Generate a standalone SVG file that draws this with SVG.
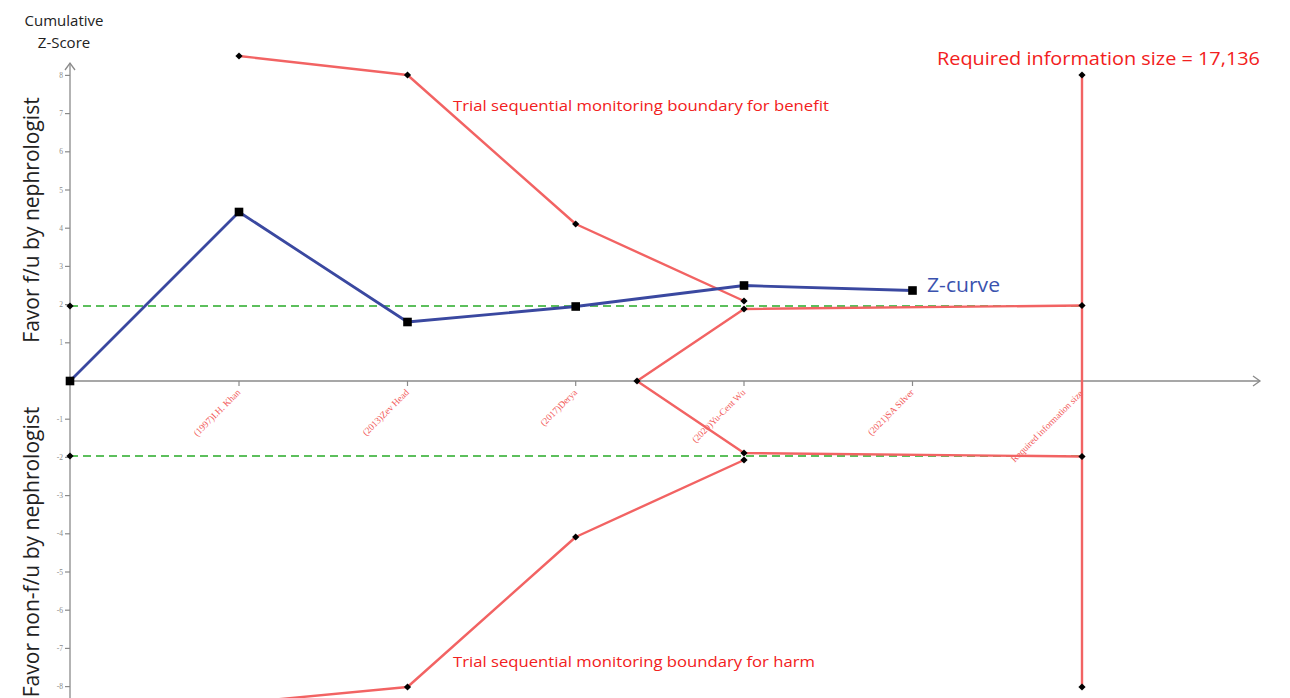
<svg xmlns="http://www.w3.org/2000/svg" xmlns:xlink="http://www.w3.org/1999/xlink" width="1290" height="698" viewBox="0 0 1290 698">
<style>
.axis{stroke:#8a8a8a;stroke-width:1.3;fill:none}
.tick{stroke:#8a8a8a;stroke-width:1.2}
.ylab{font-family:"Liberation Serif",serif;font-size:7.5px;fill:#8a8a8a;text-anchor:end}
.xlab{font-family:"Liberation Serif",serif;font-size:9.3px;fill:#f25a5a;text-anchor:end}
.red{stroke:#f26363;stroke-width:2.4;fill:none;stroke-linejoin:round}
.green{stroke:#5cbf5c;stroke-width:1.8;stroke-dasharray:8,5;fill:none}
.blue{stroke:#3a48a0;stroke-width:2.8;fill:none;stroke-linejoin:round}
.rtext{font-family:"Open Sans",sans-serif;fill:#f22020}
.big{font-family:"Open Sans",sans-serif;fill:#222}
</style>
<defs>
<path id="dm" d="M0,-3.6 L3.6,0 L0,3.6 L-3.6,0Z" fill="#000"/>
<rect id="sq" x="-4.3" y="-4.3" width="8.6" height="8.6" fill="#000"/>
</defs>
<rect width="1290" height="698" fill="#fff"/>

<g id="axes">
<line class="axis" x1="70" y1="63" x2="70" y2="698"/>
<polyline class="axis" points="65,70 70,63 75,70"/>
<line class="axis" x1="70" y1="381" x2="1260" y2="381"/>
<polyline class="axis" points="1253,376 1260,381 1253,386"/>
<g class="tick">
<line x1="65" y1="75.4" x2="70" y2="75.4"/><line x1="65" y1="113.6" x2="70" y2="113.6"/><line x1="65" y1="151.8" x2="70" y2="151.8"/><line x1="65" y1="190" x2="70" y2="190"/><line x1="65" y1="228.2" x2="70" y2="228.2"/><line x1="65" y1="266.4" x2="70" y2="266.4"/><line x1="65" y1="304.6" x2="70" y2="304.6"/><line x1="65" y1="342.8" x2="70" y2="342.8"/>
<line x1="65" y1="419.2" x2="70" y2="419.2"/><line x1="65" y1="457.4" x2="70" y2="457.4"/><line x1="65" y1="495.6" x2="70" y2="495.6"/><line x1="65" y1="533.8" x2="70" y2="533.8"/><line x1="65" y1="572" x2="70" y2="572"/><line x1="65" y1="610.2" x2="70" y2="610.2"/><line x1="65" y1="648.4" x2="70" y2="648.4"/><line x1="65" y1="686.6" x2="70" y2="686.6"/>
<line x1="239" y1="381" x2="239" y2="386"/><line x1="407.5" y1="381" x2="407.5" y2="386"/><line x1="575.7" y1="381" x2="575.7" y2="386"/><line x1="744" y1="381" x2="744" y2="386"/><line x1="912.5" y1="381" x2="912.5" y2="386"/>
</g>
<g class="ylab">
<text x="63" y="78">8</text><text x="63" y="116">7</text><text x="63" y="154">6</text><text x="63" y="193">5</text><text x="63" y="231">4</text><text x="63" y="269">3</text><text x="63" y="307">2</text><text x="63" y="345">1</text>
<text x="63" y="422">-1</text><text x="63" y="460">-2</text><text x="63" y="498">-3</text><text x="63" y="536">-4</text><text x="63" y="575">-5</text><text x="63" y="613">-6</text><text x="63" y="651">-7</text><text x="63" y="689">-8</text>
</g>
<g class="xlab">
<text transform="translate(241,393) rotate(-45)">(1997)I.H. Khan</text>
<text transform="translate(409.5,393) rotate(-45)">(2013)Zev Head</text>
<text transform="translate(577.7,393) rotate(-45)">(2017)Derya</text>
<text transform="translate(746,393) rotate(-45)">(2020)Yu-Cent Wu</text>
<text transform="translate(914.5,393) rotate(-45)">(2021)SA Silver</text>
<text transform="translate(1083.5,394) rotate(-45)">Required information size</text>
</g>
</g>

<g id="titles">
<text class="big" x="64" y="26" font-size="15" text-anchor="middle">Cumulative</text>
<text class="big" x="64" y="48" font-size="15" text-anchor="middle">Z-Score</text>
<text class="big" transform="translate(39,220) rotate(-90)" font-size="21" text-anchor="middle">Favor f/u by nephrologist</text>
<text class="big" transform="translate(39,552) rotate(-90)" font-size="21" text-anchor="middle">Favor non-f/u by nephrologist</text>
</g>

<g id="connectors">
<line class="green" x1="70" y1="306" x2="1082" y2="306"/>
<line class="green" x1="70" y1="456" x2="1082" y2="456"/>
<polyline class="red" points="239,56 407.5,75 575.7,224 744,301"/>
<polyline class="red" points="637,381 744,309 1082,305.5"/>
<polyline class="red" points="637,381 744,453 1082,456.5"/>
<polyline class="red" points="239,703 407.5,687 575.7,537 744,460"/>
<line class="red" x1="1082" y1="75" x2="1082" y2="687"/>
<polyline class="blue" points="70,381 239,212 407.5,322 575.7,306.5 744,285.5 912.5,290.5"/>
</g>

<g id="boundary-markers">
<use xlink:href="#dm" x="239" y="56"/><use xlink:href="#dm" x="407.5" y="75"/><use xlink:href="#dm" x="575.7" y="224"/><use xlink:href="#dm" x="744" y="301"/>
<use xlink:href="#dm" x="637" y="381"/><use xlink:href="#dm" x="744" y="309"/><use xlink:href="#dm" x="744" y="453"/>
<use xlink:href="#dm" x="407.5" y="687"/><use xlink:href="#dm" x="575.7" y="537"/><use xlink:href="#dm" x="744" y="460"/>
<use xlink:href="#dm" x="1082" y="75"/><use xlink:href="#dm" x="1082" y="305.5"/><use xlink:href="#dm" x="1082" y="456.5"/><use xlink:href="#dm" x="1082" y="687"/>
<use xlink:href="#dm" x="70" y="306"/><use xlink:href="#dm" x="70" y="456"/>
</g>

<g id="zcurve-markers">
<use xlink:href="#sq" x="70" y="381"/><use xlink:href="#sq" x="239" y="212"/><use xlink:href="#sq" x="407.5" y="322"/><use xlink:href="#sq" x="575.7" y="306.5"/><use xlink:href="#sq" x="744" y="285.5"/><use xlink:href="#sq" x="912.5" y="290.5"/>
</g>

<g id="labels">
<text x="927" y="292" font-family="Open Sans, sans-serif" font-size="20" fill="#3a52ae" textLength="73" lengthAdjust="spacingAndGlyphs">Z-curve</text>
<text class="rtext" x="937" y="65" font-size="19" textLength="323" lengthAdjust="spacingAndGlyphs">Required information size = 17,136</text>
<text class="rtext" x="453" y="111" font-size="15" textLength="376" lengthAdjust="spacingAndGlyphs">Trial sequential monitoring boundary for benefit</text>
<text class="rtext" x="453" y="667" font-size="15" textLength="362" lengthAdjust="spacingAndGlyphs">Trial sequential monitoring boundary for harm</text>
</g>
</svg>
